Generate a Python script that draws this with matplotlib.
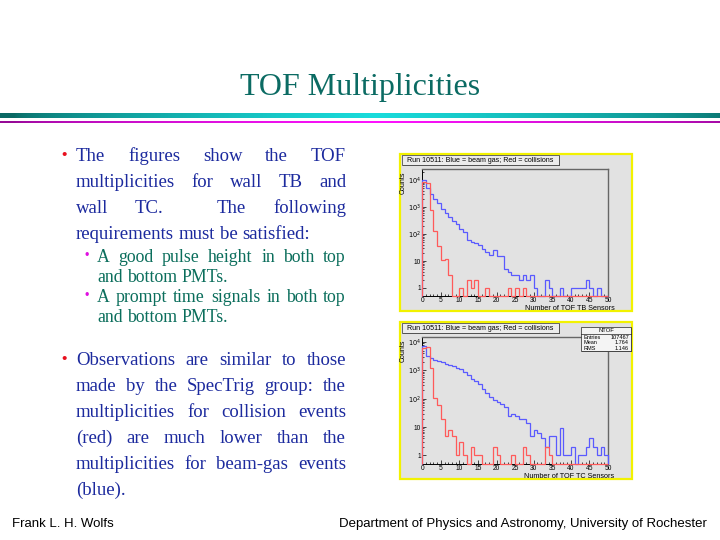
import numpy as np
import matplotlib
matplotlib.use('Agg')
import matplotlib.pyplot as plt
from matplotlib.patches import Rectangle
from matplotlib.ticker import FixedLocator, FixedFormatter, MultipleLocator, NullFormatter
from matplotlib.lines import Line2D

# ---------------- data ----------------
bin_edges = np.arange(0, 51)          # 50 bins of width 1, 0..50

blue_tb = [10500, 5300, 3200, 2000, 1400, 850, 620, 440, 310, 235,
           160, 122, 63, 52, 45, 39, 27, 22, 17, 26,
           15, 15, 5, 4, 3, 3, 2, 3, 2, 3,
           1, 0, 0, 2, 1, 0, 0, 1, 0, 0,
           1, 1, 1, 1, 2, 1, 0, 1, 0, 0]
red_tb = [8500, 8000, 800, 130, 36, 11, 12, 3, 0, 0,
          1, 0, 2, 1, 2, 0, 0, 1, 0, 0,
          0, 0, 0, 1, 0, 1, 0, 1, 0, 0,
          0, 0, 0, 0, 0, 0, 0, 0, 0, 0,
          0, 0, 0, 0, 0, 0, 0, 0, 0, 0]
blue_tc = [7000, 3200, 2700, 2300, 2200, 2050, 1750, 1560, 1450, 1250,
           1100, 890, 670, 510, 430, 325, 230, 165, 115, 87,
           80, 66, 50, 25, 28, 25, 19, 19, 14, 5,
           8, 6, 4, 2, 5, 5, 1, 9, 1, 1,
           2, 0, 1, 1, 2, 4, 2, 1, 2, 1]
red_tc = [6000, 6500, 1250, 105, 60, 19, 5, 8, 5, 1,
          3, 1, 0, 2, 1, 1, 0, 0, 0, 2,
          1, 0, 0, 0, 1, 0, 0, 2, 1, 0,
          0, 0, 0, 2, 1, 0, 0, 0, 0, 0,
          0, 0, 0, 0, 0, 0, 0, 0, 0, 0]

y_tick_values = [1, 10, 100, 1000, 10000]
y_tick_labels = ['1', '10', r'$10^{2}$', r'$10^{3}$', r'$10^{4}$']

hist_title = 'Run 10511: Blue = beam gas; Red = collisions'
stats_name = 'NTOF'
stats_rows = [('Entries', '107467'), ('Mean', '1.764'), ('RMS', '1.146')]

slide_title = 'TOF Multiplicities'
para1 = ['The figures show the TOF',
         'multiplicities for wall TB and',
         'wall TC.  The following',
         'requirements must be satisfied:']
sub1 = ['A good pulse height in both top', 'and bottom PMTs.']
sub2 = ['A prompt time signals in both top', 'and bottom PMTs.']
para2 = ['Observations are similar to those',
         'made by the SpecTrig group: the',
         'multiplicities for collision events',
         '(red) are much lower than the',
         'multiplicities for beam-gas events',
         '(blue).']
footer_left = 'Frank L. H. Wolfs'
footer_right = 'Department of Physics and Astronomy, University of Rochester'

# ---------------- figure ----------------
W, H = 720, 540
fig = plt.figure(figsize=(7.2, 5.4), dpi=100)
fig.patch.set_facecolor('white')
renderer = fig.canvas.get_renderer()


def fx(x):
    return x / W


def fy(y):
    return 1 - y / H


SERIF = ['Liberation Serif', 'DejaVu Serif']
SANS = ['Liberation Sans', 'DejaVu Sans']

# Title
fig.text(fx(360), fy(95), slide_title, ha='center', va='baseline',
         family=SERIF, fontsize=23, color='#0b6b63')


# gradient rules
def grad_bar(y0, y1, c_edge, c_mid, power=0.6):
    ax = fig.add_axes([0, fy(y1), 1, (y1 - y0) / H])
    t = np.linspace(0, 1, 720)
    w = np.clip(1 - np.abs(t - 0.52) / 0.5, 0, 1) ** power
    ce = np.array(c_edge) / 255.0
    cm = np.array(c_mid) / 255.0
    row = ce[None, :] * (1 - w[:, None]) + cm[None, :] * w[:, None]
    img = np.repeat(row[None, :, :], 4, axis=0)
    ax.imshow(img, aspect='auto', extent=[0, 1, 0, 1], interpolation='bilinear')
    ax.set_axis_off()


grad_bar(112.5, 118.0, (10, 105, 100), (25, 220, 220))
grad_bar(120.5, 123.2, (150, 10, 150), (255, 20, 255))


# justified text
def text_block(lines, x0, x1, y_base, dy, fontsize, color, justify_last=False):
    sp = 0.25 * fontsize * 100 / 72
    for i, line in enumerate(lines):
        words = line.split(' ')
        y = y_base + i * dy
        texts, widths = [], []
        for wd in words:
            if wd == '':
                texts.append(None)
                widths.append(0.0)
                continue
            t = fig.text(0, fy(y), wd, ha='left', va='baseline', family=SERIF,
                         fontsize=fontsize, color=color)
            texts.append(t)
            widths.append(t.get_window_extent(renderer).width)
        last = (i == len(lines) - 1)
        if len(words) > 1 and (not last or justify_last):
            gap = (x1 - x0 - sum(widths)) / (len(words) - 1)
        else:
            gap = sp
        x = x0
        for t, wd in zip(texts, widths):
            if t is not None:
                t.set_x(fx(x))
            x += wd + gap


MAIN_C = '#1c2a9e'
SUB_C = '#0b6e5c'
text_block(para1, 76, 346, 161, 26, 13.5, MAIN_C)
text_block(sub1, 97, 346, 262, 20, 12.8, SUB_C)
text_block(sub2, 97, 346, 302, 20, 12.8, SUB_C)
text_block(para2, 76, 346, 365, 26, 13.5, MAIN_C)

# bullets
for yb in (155, 359):
    fig.text(fx(64), fy(yb), '\u2022', ha='center', va='center', family=SANS,
             fontsize=11, color='#e8101e')
for yb in (256, 296):
    fig.text(fx(86.5), fy(yb), '\u2022', ha='center', va='center', family=SANS,
             fontsize=9, color='#e010e0')

# footer
fig.text(fx(12), fy(527), footer_left, ha='left', va='baseline', family=SANS,
         fontsize=9.5, color='black')
fig.text(fx(707), fy(527), footer_right, ha='right', va='baseline', family=SANS,
         fontsize=9.5, color='black')


# ---------------- histogram panels ----------------
YMIN = 0.5
BLUE = '#5a5aff'
RED = '#ff5a5a'
BG = '#e2e2e2'


def panel(top, blue, red, xlabel, ymax, stats=False):
    cx0, cx1 = 400, 632
    # canvas
    fig.patches.append(Rectangle((fx(cx0), fy(top + 157)), (cx1 - cx0) / W, 157 / H,
                                 transform=fig.transFigure, facecolor=BG,
                                 edgecolor='#f2f200', lw=1.6, zorder=-5))
    ax = fig.add_axes([fx(422.3), fy(top + 142), (608 - 422.3) / W, 127.3 / H])
    ax.set_zorder(1)
    ax.set_facecolor(BG)
    ax.set_yscale('log')
    ax.set_xlim(0, 50)
    ax.set_ylim(YMIN, ymax)
    b = np.asarray(blue, float)
    r = np.asarray(red, float)
    ax.stairs(np.where(b > 0, b, YMIN), bin_edges, baseline=YMIN, color=BLUE,
              lw=0.9, clip_on=False, zorder=3)
    ax.stairs(np.where(r > 0, r, YMIN), bin_edges, baseline=YMIN, color=RED,
              lw=0.9, clip_on=False, zorder=4)
    ax.xaxis.set_major_locator(MultipleLocator(5))
    ax.xaxis.set_minor_locator(MultipleLocator(1))
    ax.yaxis.set_major_locator(FixedLocator(y_tick_values))
    ax.yaxis.set_major_formatter(FixedFormatter(y_tick_labels))
    minors = [m * 10 ** e for e in range(0, 5) for m in range(2, 10)]
    ax.yaxis.set_minor_locator(FixedLocator(minors))
    ax.yaxis.set_minor_formatter(NullFormatter())
    ax.tick_params(which='both', direction='in', width=0.5, colors='black',
                   labelsize=4.8, pad=1.0, top=False, right=False)
    ax.tick_params(which='major', length=3)
    ax.tick_params(which='minor', length=1.6)
    for lab in ax.get_xticklabels() + ax.get_yticklabels():
        lab.set_family(SANS)
    for s in ('left', 'bottom'):
        ax.spines[s].set_color('black')
        ax.spines[s].set_linewidth(0.7)
    for s in ('top', 'right'):
        ax.spines[s].set_color('#666666')
        ax.spines[s].set_linewidth(1.0)
    ax.text(-0.102, 0.975, 'Counts', rotation=90, ha='center', va='top',
            transform=ax.transAxes, family=SANS, fontsize=5.0)
    ax.text(1.035, -0.098, xlabel, ha='right', va='center',
            transform=ax.transAxes, family=SANS, fontsize=5.2)
    # title box
    fig.patches.append(Rectangle((fx(403), fy(top + 12)), 157 / W, 10 / H,
                                 transform=fig.transFigure, facecolor='#555555',
                                 edgecolor='none', zorder=5))
    fig.patches.append(Rectangle((fx(401.5), fy(top + 11)), 157 / W, 10 / H,
                                 transform=fig.transFigure, facecolor='#ececec',
                                 edgecolor='#333333', lw=0.5, zorder=6))
    fig.text(fx(480), fy(top + 6), hist_title, ha='center', va='center',
             family=SANS, fontsize=5.1, color='black', zorder=7)
    if stats:
        sx0, sx1, sy0, sy1 = 581, 631, top + 5, top + 29
        fig.patches.append(Rectangle((fx(sx0 + 1), fy(sy1 + 1)), (sx1 - sx0) / W,
                                     (sy1 - sy0) / H, transform=fig.transFigure,
                                     facecolor='#444444', edgecolor='none', zorder=5))
        fig.patches.append(Rectangle((fx(sx0), fy(sy1)), (sx1 - sx0) / W,
                                     (sy1 - sy0) / H, transform=fig.transFigure,
                                     facecolor='#f4f4f4', edgecolor='#222222',
                                     lw=0.5, zorder=6))
        fig.lines.append(Line2D([fx(sx0), fx(sx1)], [fy(sy0 + 7), fy(sy0 + 7)],
                                transform=fig.transFigure, color='#222222',
                                lw=0.5, zorder=7))
        fig.text(fx((sx0 + sx1) / 2), fy(sy0 + 3.6), stats_name, ha='center',
                 va='center', family=SANS, fontsize=4.2, zorder=8)
        for k, (nm, val) in enumerate(stats_rows):
            yy = fy(sy0 + 10.5 + 5.4 * k)
            fig.text(fx(sx0 + 2), yy, nm, ha='left', va='center', family=SANS,
                     fontsize=4.0, zorder=8)
            fig.text(fx(sx1 - 2), yy, val, ha='right', va='center', family=SANS,
                     fontsize=4.0, zorder=8)
    return ax


panel(154, blue_tb, red_tb, 'Number of TOF TB Sensors', 2.7e4)
panel(322, blue_tc, red_tc, 'Number of TOF TC Sensors', 1.55e4, stats=True)

fig.savefig('out.png', dpi=100, facecolor='white')
